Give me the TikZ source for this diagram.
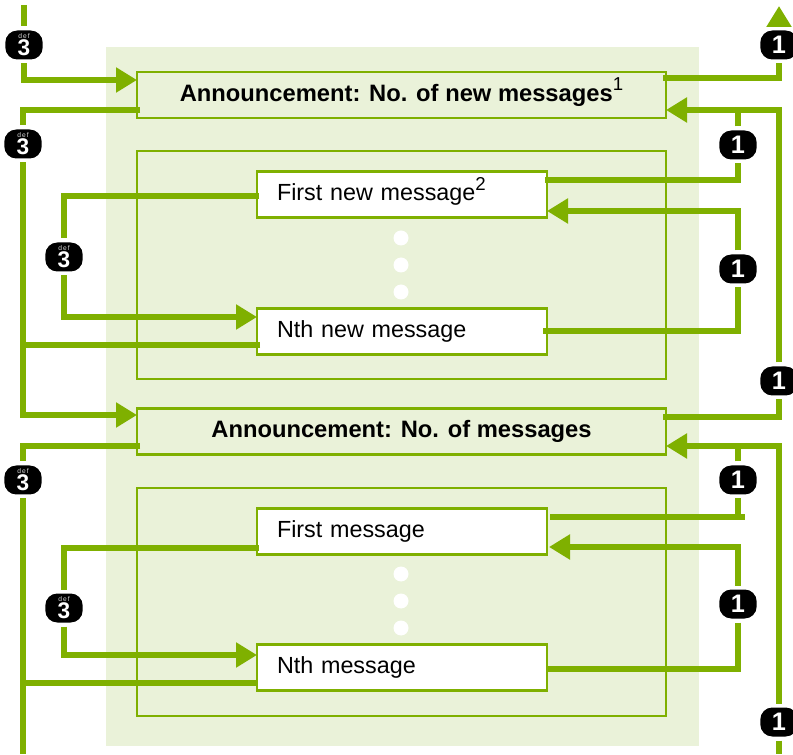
\documentclass[tikz,border=0pt]{standalone}
\usepackage{xcolor}
\usepackage{fontspec}
\setmainfont{Liberation Sans}
\usepackage{tikz}
\usetikzlibrary{arrows.meta, positioning}
\definecolor{linkgreen}{HTML}{7FB000}
\definecolor{panelgreen}{HTML}{EAF2D9}
\newcommand{\plainfont}{\fontsize{17.5}{20}\selectfont}
\newcommand{\headfont}{\fontsize{17.8}{20}\selectfont\bfseries}
\newcommand{\supnum}[1]{\smash{\raisebox{7.8pt}{\fontsize{14}{14}\selectfont\mdseries #1}}}
\newcommand{\keyone}{\fontsize{19}{19}\selectfont\bfseries 1}
\newcommand{\keythree}{{\fontsize{5}{5}\selectfont\color{black!15}d\,e\,f}\\[1pt]{\fontsize{17}{14}\selectfont\bfseries 3}}
\tikzset{panel/.style={fill=panelgreen, draw=none, minimum width=444.75pt, minimum height=524.25pt, outer sep=0pt, inner sep=0pt}}
\tikzset{frame/.style={draw=linkgreen, line width=1.3pt, minimum width=396.75pt, minimum height=171pt, outer sep=0pt, inner sep=0pt}}
\tikzset{announce/.style={draw=linkgreen, line width=2.1pt, minimum width=396.75pt, minimum height=34.5pt, outer sep=0pt, inner sep=0pt, font=\headfont}}
\tikzset{msgbox/.style={draw=linkgreen, fill=white, line width=2.1pt, text width=187.5pt, inner xsep=15pt, inner ysep=0pt, minimum height=34.5pt, align=left, outer sep=0pt, font=\plainfont}}
\tikzset{dotmark/.style={circle, fill=white, minimum size=11.25pt, inner sep=0pt}}
\tikzset{key/.style={fill=black, text=white, rounded corners=9pt, minimum width=28pt, minimum height=21.75pt, inner sep=0pt, outer sep=3pt, align=center}}
\tikzset{link/.style={draw=linkgreen, line width=4.4pt}}
\tikzset{tip/.style={-{Triangle[length=15.75pt,width=18pt]}}}

\begin{document}
\begin{tikzpicture}[x=.75pt, y=-.75pt]
  \useasboundingbox (0,0) rectangle (793,755);
  % Panels
  \node[panel] (back) at (402.5,396.5) {};
  \node[frame] (newframe) at (401.5,265) {};
  \node[frame] (allframe) at (401.5,602) {};
  % Boxes
  \node[announce] (annnew) at (401.5,95) {Announcement: No. of new messages\supnum{1}};
  \node[msgbox] (firstnew) at (402,194.5) {First new message\supnum{2}};
  \node[msgbox] (nthnew) at (402,331.5) {Nth new message};
  \node[announce] (annall) at (401.5,431.5) {Announcement: No. of messages};
  \node[msgbox] (firstall) at (402,531.5) {First message};
  \node[msgbox] (nthall) at (402,667.5) {Nth message};
  \foreach \y in {238,265,292,574,601,628}
    \node[dotmark] (dot\y) at (401,\y) {};
  % Keys
  \node[key] (keya) at (24,45) {\keythree};
  \node[key] (keyb) at (23,144) {\keythree};
  \node[key] (keyc) at (64,257) {\keythree};
  \node[key] (keyd) at (23,480) {\keythree};
  \node[key] (keye) at (64,608) {\keythree};
  \node[key] (keyf) at (779,45) {\keyone};
  \node[key] (keyg) at (738,145) {\keyone};
  \node[key] (keyh) at (738,269) {\keyone};
  \node[key] (keyi) at (779,381) {\keyone};
  \node[key] (keyj) at (738,480) {\keyone};
  \node[key] (keyk) at (738,604) {\keyone};
  \node[key] (keym) at (779,722) {\keyone};
  % Free ends
  \coordinate (topin) at (24,5);
  \coordinate (topout) at (779,6);
  \coordinate (annnewin) at (137,80);
  \coordinate (annnewleft) at (140,110);
  \coordinate (annnewout) at (663,78);
  \coordinate (annnewback) at (666,110);
  \coordinate (firstnewleft) at (259,196);
  \coordinate (firstnewout) at (545,180);
  \coordinate (firstnewback) at (547,211);
  \coordinate (nthnewin) at (257,317);
  \coordinate (nthnewleft) at (260,345);
  \coordinate (nthnewout) at (543,331);
  \coordinate (annallin) at (137,415);
  \coordinate (annallleft) at (140,446);
  \coordinate (annallout) at (663,417);
  \coordinate (annallback) at (666,446);
  \coordinate (firstallleft) at (259,548);
  \coordinate (firstallout) at (550,517);
  \coordinate (firstallend) at (745,517);
  \coordinate (firstallback) at (549,547);
  \coordinate (nthallin) at (257,655);
  \coordinate (nthallleft) at (257,683);
  \coordinate (nthallout) at (547,669);
  \coordinate (leftend) at (23,754);
  \coordinate (rightend) at (779,754);
  % Left side
  \draw[link] (topin) -- (keya.north);
  \draw[link, tip] (keya.south) |- (annnewin);
  \draw[link] (annnewleft) -| (keyb.north);
  \draw[link, tip] (keyb.south) |- (annallin);
  \draw[link] (nthnewleft) -- (nthnewleft -| keyb);
  \draw[link] (firstnewleft) -| (keyc.north);
  \draw[link, tip] (keyc.south) |- (nthnewin);
  \draw[link] (annallleft) -| (keyd.north);
  \draw[link] (keyd.south) -- (leftend);
  \draw[link] (nthallleft) -- (nthallleft -| keyd);
  \draw[link] (firstallleft) -| (keye.north);
  \draw[link, tip] (keye.south) |- (nthallin);
  % Right side
  \draw[link, tip] (keyf.north) -- (topout);
  \draw[link] (keyf.south) |- (annnewout);
  \draw[link, tip] (keyi.north) |- (annnewback);
  \draw[link] (keyi.south) |- (annallout);
  \draw[link] (keyg.north) -- (keyg.north |- annnewback);
  \draw[link] (keyg.south) |- (firstnewout);
  \draw[link, tip] (keyh.north) |- (firstnewback);
  \draw[link] (keyh.south) |- (nthnewout);
  \draw[link, tip] (keym.north) |- (annallback);
  \draw[link] (keym.south) -- (rightend);
  \draw[link] (keyj.north) -- (keyj.north |- annallback);
  \draw[link] (keyj.south) -- (keyj.south |- firstallout);
  \draw[link] (firstallout) -- (firstallend);
  \draw[link, tip] (keyk.north) |- (firstallback);
  \draw[link] (keyk.south) |- (nthallout);
\end{tikzpicture}
\end{document}
